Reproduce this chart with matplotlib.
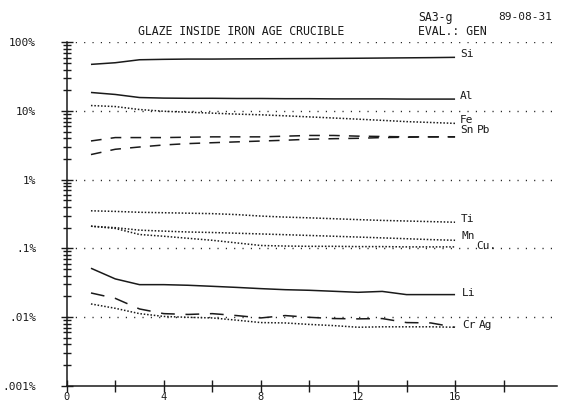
import matplotlib
matplotlib.use("Agg")
import matplotlib.pyplot as plt
from matplotlib.ticker import FixedLocator, LogLocator, NullFormatter

plt.rcParams['font.family'] = ['DejaVu Sans Mono']

# ---------------- data ----------------
scan = [1, 2, 3, 4, 5, 6, 7, 8, 9, 10, 11, 12, 13, 14, 15, 16]

si = [47.7, 50.4, 55.7, 56.5, 57.0, 57.0, 57.3, 57.5, 57.8, 58.0, 58.3, 58.6, 59.0, 59.4, 59.8, 60.4]
al = [18.6, 17.4, 15.7, 15.4, 15.3, 15.3, 15.2, 15.2, 15.1, 15.1, 15.0, 15.0, 15.0, 14.9, 14.9, 14.9]
fe = [12.0, 11.6, 10.5, 9.9, 9.6, 9.3, 9.0, 8.8, 8.5, 8.2, 7.9, 7.6, 7.3, 7.0, 6.8, 6.6]
sn = [3.66, 4.1, 4.1, 4.1, 4.15, 4.2, 4.2, 4.2, 4.3, 4.4, 4.4, 4.3, 4.25, 4.2, 4.2, 4.2]
pb = [2.32, 2.77, 2.99, 3.2, 3.35, 3.45, 3.55, 3.65, 3.75, 3.88, 3.95, 4.0, 4.1, 4.15, 4.2, 4.2]
ti = [0.352, 0.345, 0.335, 0.33, 0.325, 0.32, 0.31, 0.295, 0.285, 0.278, 0.27, 0.262, 0.255, 0.25, 0.245, 0.24]
mn = [0.21, 0.2, 0.184, 0.178, 0.173, 0.17, 0.166, 0.162, 0.158, 0.154, 0.15, 0.146, 0.142, 0.138, 0.134, 0.131]
cu = [0.21, 0.195, 0.159, 0.15, 0.14, 0.131, 0.12, 0.11, 0.108, 0.107, 0.107, 0.106, 0.106, 0.105, 0.105, 0.105]
li = [0.0513, 0.0359, 0.0296, 0.0296, 0.029, 0.028, 0.027, 0.0259, 0.025, 0.0245, 0.0237, 0.0229, 0.0236, 0.0212, 0.0212, 0.0212]
cr = [0.0224, 0.0187, 0.0131, 0.0112, 0.0109, 0.0112, 0.0105, 0.0097, 0.0105, 0.0099, 0.0095, 0.0094, 0.0095, 0.0083, 0.0082, 0.0071]
ag = [0.0155, 0.0134, 0.0112, 0.0102, 0.0099, 0.0097, 0.009, 0.0083, 0.0082, 0.0078, 0.0075, 0.0071, 0.0072, 0.0072, 0.0072, 0.0071]

decades = [0.001, 0.01, 0.1, 1, 10, 100]
decade_labels = ['.001%', '.01%', '.1%', '1%', '10%', '100%']
x_ticks = [0, 2, 4, 6, 8, 10, 12, 14, 16, 18]
x_labels = ['0', '', '4', '', '8', '', '12', '', '16', '']

title = 'GLAZE INSIDE IRON AGE CRUCIBLE'
sample = 'SA3-g'
date = '89-08-31'
evaluation = 'EVAL.: GEN'

# ---------------- styles ----------------
INK = '#1a1a1a'
solid = '-'
dots = (0, (1.0, 1.2))
dash = (0, (7, 6))
longdash = (0, (9, 7))

series = [
    # name, values, linestyle, label offset (px)
    ('Si', si, solid, (5, 3)),
    ('Al', al, solid, (5, 3)),
    ('Fe', fe, dots, (5, 3)),
    ('Sn', sn, dash, (5, 7)),
    ('Pb', pb, dash, (22, 7)),
    ('Ti', ti, dots, (6, 3)),
    ('Mn', mn, dots, (6, 4)),
    ('Cu.', cu, dots, (21, 1)),
    ('Li', li, solid, (7, 2)),
    ('Cr', cr, longdash, (7, 2)),
    ('Ag', ag, dots, (24, 2)),
]

W, H = 568, 401
fig = plt.figure(figsize=(W / 100, H / 100), dpi=100)
left, right, top, bottom = 66.7, 557, 42.3, 385.7
ax = fig.add_axes([left / W, 1 - bottom / H, (right - left) / W, (bottom - top) / H])

for name, vals, ls, off in series:
    ax.plot(scan, vals, color=INK, lw=1.1, linestyle=ls, solid_capstyle='butt',
            dash_capstyle='butt')
    ax.annotate(name, xy=(scan[-1], vals[-1]), xytext=off, textcoords='offset pixels',
                fontsize=8, color=INK, ha='left', va='center')

ax.set_yscale('log')
ax.set_ylim(decades[0], decades[-1])
ax.set_xlim(0, 20.2)

# dotted decade gridlines
for d in decades[1:]:
    ax.axhline(d, color=INK, lw=1.0, linestyle=(0, (0.8, 5.2)), zorder=0)

for s in ['top', 'right']:
    ax.spines[s].set_visible(False)
for s in ['left', 'bottom']:
    ax.spines[s].set_linewidth(1.1)
    ax.spines[s].set_color(INK)

ax.yaxis.set_major_locator(FixedLocator(decades))
ax.set_yticklabels(decade_labels)
ax.yaxis.set_minor_locator(LogLocator(base=10, subs=range(2, 10)))
ax.yaxis.set_minor_formatter(NullFormatter())
ax.tick_params(axis='y', which='major', direction='inout', length=8, width=1.0,
               color=INK, labelsize=8, pad=18, labelcolor=INK)
ax.tick_params(axis='y', which='minor', direction='inout', length=6, width=1.0, color=INK)

ax.set_xticks(x_ticks)
ax.set_xticklabels(x_labels)
ax.tick_params(axis='x', which='major', direction='inout', length=8, width=1.0,
               color=INK, labelsize=7.5, pad=0.5, labelcolor=INK)
ax.tick_params(axis='x', which='minor', bottom=False)

fig.text(138 / W, 1 - 31.5 / H, title, fontsize=8.3, ha='left', va='center', color=INK)
fig.text(418 / W, 1 - 17 / H, sample, fontsize=8.3, ha='left', va='center', color=INK)
fig.text(498 / W, 1 - 17 / H, date, fontsize=8.0, ha='left', va='center', color=INK)
fig.text(418 / W, 1 - 31.5 / H, evaluation, fontsize=8.3, ha='left', va='center', color=INK)

fig.savefig('out.png', dpi=100)
